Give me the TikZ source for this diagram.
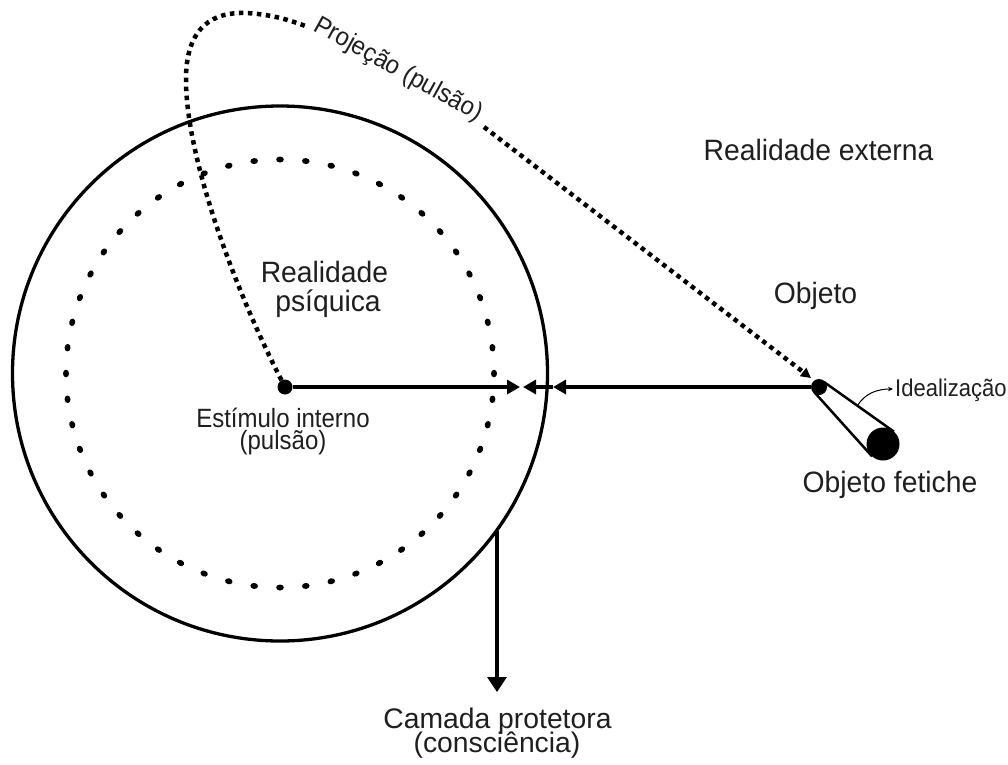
\documentclass[tikz,border=0pt]{standalone}
\usepackage{fontspec}
\setmainfont{Liberation Sans}
\usetikzlibrary{arrows.meta,calc}
\newcommand{\vstretch}[2]{\scalebox{1}[#1]{#2}}
\tikzset{
  lbl/.style={text=black!88, inner sep=0pt, anchor=base},
  fsbig/.style={font=\fontsize{28.3pt}{30pt}\selectfont},
  fsmid/.style={font=\fontsize{24pt}{26pt}\selectfont},
  fssmall/.style={font=\fontsize{22pt}{24pt}\selectfont},
  dotnode/.style={circle, fill=black, inner sep=0pt},
  outerline/.style={line width=3.3pt},
  solidarr/.style={line width=3.5pt, -{Triangle[length=13pt,width=14pt]}},
  projline/.style={line width=4.5pt, dash pattern=on 4.5pt off 4.5pt, line cap=butt},
  conel/.style={line width=2.5pt},
}
\begin{document}
\begin{tikzpicture}[x=1pt,y=-1pt]
\useasboundingbox (0,0) rectangle (1008,764);
\fill[white] (0,0) rectangle (1008,764);

% outer circle (protective layer)
\coordinate (cc) at (280,373.5);
\draw[outerline] (cc) circle[radius=267.5pt];

% inner dotted circle
\begin{scope}[shift={(cc)}]
  \foreach \i in {0,...,51} {
    \pgfmathsetmacro\a{90+\i*6.9230769}
    \fill[rotate=\a] (214pt,0pt) ellipse[x radius=3.0pt, y radius=3.8pt];
  }
\end{scope}

% dots
\node[dotnode, minimum size=15pt] (stim) at (285,387) {};
\node[dotnode, minimum size=16pt] (obj) at (819,387) {};
\node[dotnode, minimum size=33pt] (fet) at (883,444) {};

% horizontal arrows
\coordinate (t1) at (520,387);
\coordinate (t2) at (523,387);
\coordinate (m1) at (553,387);
\draw[solidarr] (stim) -- (t1);
\draw[solidarr] (obj) -- (m1);
\draw[solidarr] (m1) -- (t2);

% projection dotted path
\coordinate (pA) at (308,27);
\coordinate (pB) at (484,127);
\coordinate (pe) at (811,378);
\draw[projline] (stim) .. controls (235,290) and (187,160) .. (186,82)
  .. controls (185,25) and (215,12) .. (245,13)
  .. controls (270,14) and (290,20) .. (pA);
\draw[projline, -{Triangle[length=10pt,width=10pt]}] (pB) -- (pe);
\node[lbl, fsmid, anchor=center, rotate=-29] (proj) at (398,70) {\vstretch{1.06}{Projeção (pulsão)}};

% fetish cone
\coordinate (u1) at ($(obj.center)!7pt!90:(fet.center)$);
\coordinate (u2) at ($(fet.center)!16.5pt!-90:(obj.center)$);
\coordinate (l1) at ($(obj.center)!7pt!-90:(fet.center)$);
\coordinate (l2) at ($(fet.center)!16.5pt!90:(obj.center)$);
\draw[conel] (u1) -- (u2);
\draw[conel] (l1) -- (l2);

% idealizacao
\node[lbl, fssmall, anchor=base west] (ideal) at (895,396) {\vstretch{1.1}{Idealização}};
\coordinate (ic) at ($(u1)!0.48!(u2)$);
\coordinate (ie) at (893,389);
\draw[line width=1pt, -{Stealth[length=5pt,width=4.5pt]}] (ic) .. controls (865,393) and (878,389) .. (ie);

% protective layer arrow
\coordinate (cs) at (497,531);
\coordinate (ce) at (497,692);
\draw[line width=3.3pt, -{Triangle[length=15pt,width=19pt]}] (cs) -- (ce);

% labels
\node[lbl, fsbig] (ext) at (818.5,160) {\vstretch{1.04}{Realidade externa}};
\node[lbl, fsbig] (objl) at (815.5,303) {\vstretch{1.04}{Objeto}};
\node[lbl, fsbig] (psi1) at (324.5,282) {\vstretch{1.04}{Realidade}};
\node[lbl, fsbig] (psi2) at (328,311) {\vstretch{1.04}{psíquica}};
\node[lbl, fsmid] (est1) at (283,427) {\vstretch{1.1}{Estímulo interno}};
\node[lbl, fsmid] (est2) at (283,449) {\vstretch{1.1}{(pulsão)}};
\node[lbl, fsbig] (fetl) at (890,492) {\vstretch{1.04}{Objeto fetiche}};
\node[lbl, fsbig] (cam1) at (497.5,728) {Camada protetora};
\node[lbl, fsbig] (cam2) at (497,752) {(consciência)};
\end{tikzpicture}
\end{document}
